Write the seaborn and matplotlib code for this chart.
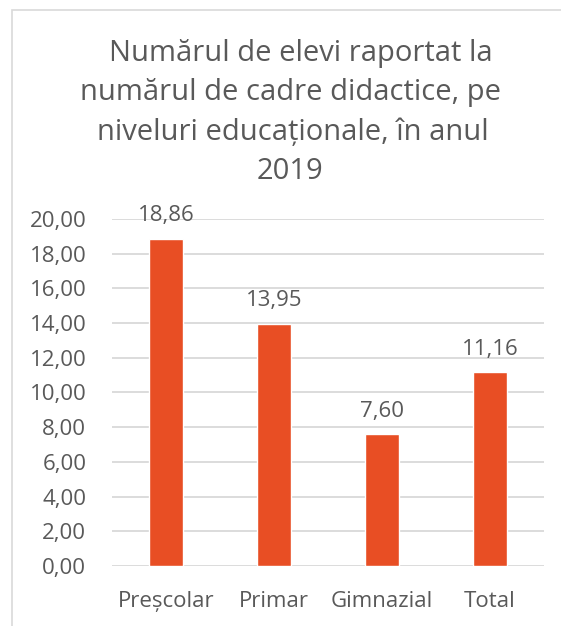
import matplotlib
matplotlib.use("Agg")
import matplotlib.pyplot as plt
import matplotlib.patches as mpatches
import seaborn as sns
import pandas as pd

# Data
categories = ["Preșcolar", "Primar", "Gimnazial", "Total"]
values = [18.86, 13.95, 7.60, 11.16]
y_ticks = [0, 2, 4, 6, 8, 10, 12, 14, 16, 18, 20]

title_lines = ["Numărul de elevi raportat la",
               "numărul de cadre didactice, pe",
               "niveluri educaționale, în anul",
               "2019"]

df = pd.DataFrame({"nivel": categories, "valoare": values})

sns.set_theme(style="white")
plt.rcParams["font.family"] = ["Open Sans", "DejaVu Sans"]

text_color = "#595959"
bar_color = "#E84E24"
grid_color = "#D9D9D9"

W, H = 561, 626
fig = plt.figure(figsize=(W / 100, H / 100), dpi=100)
ax = fig.add_axes([112 / W, 60 / H, 432 / W, 347 / H])

sns.barplot(data=df, x="nivel", y="valoare", color=bar_color, width=0.315,
            saturation=1, ax=ax, zorder=3)

ax.set_ylim(0, 20)
ax.set_xlim(-0.5, 3.5)
ax.set_yticks(y_ticks)
ax.set_yticklabels([f"{t:.2f}".replace(".", ",") for t in y_ticks])
ax.yaxis.grid(True, color=grid_color, linewidth=1.3, zorder=0)
ax.set_axisbelow(True)
for s in ax.spines.values():
    s.set_visible(False)
ax.tick_params(axis="both", length=0, labelsize=16, colors=text_color)
ax.tick_params(axis="y", pad=18.5)
ax.tick_params(axis="x", pad=18)
ax.set_xlabel("")
ax.set_ylabel("")

# value labels
for i, v in enumerate(values):
    ax.annotate(f"{v:.2f}".replace(".", ","), (i, v), xytext=(0, 9),
                textcoords="offset points", ha="center", va="bottom",
                fontsize=16, color=text_color)

# title, one line at a time (baselines)
title_x = [301, 291, 293, 290]
title_y = [61, 100, 140, 179]
for line, x, y in zip(title_lines, title_x, title_y):
    fig.text(x / W, 1 - y / H, line, ha="center", va="baseline",
             fontsize=21, color=text_color)

# chart border (cut at right and bottom)
fig.patches.append(mpatches.Rectangle((12 / W, -0.1), 1.2, 1 - 10 / H + 0.1,
                                      transform=fig.transFigure, fill=False,
                                      edgecolor=grid_color, linewidth=1.2))

fig.savefig("out.png", dpi=100)
